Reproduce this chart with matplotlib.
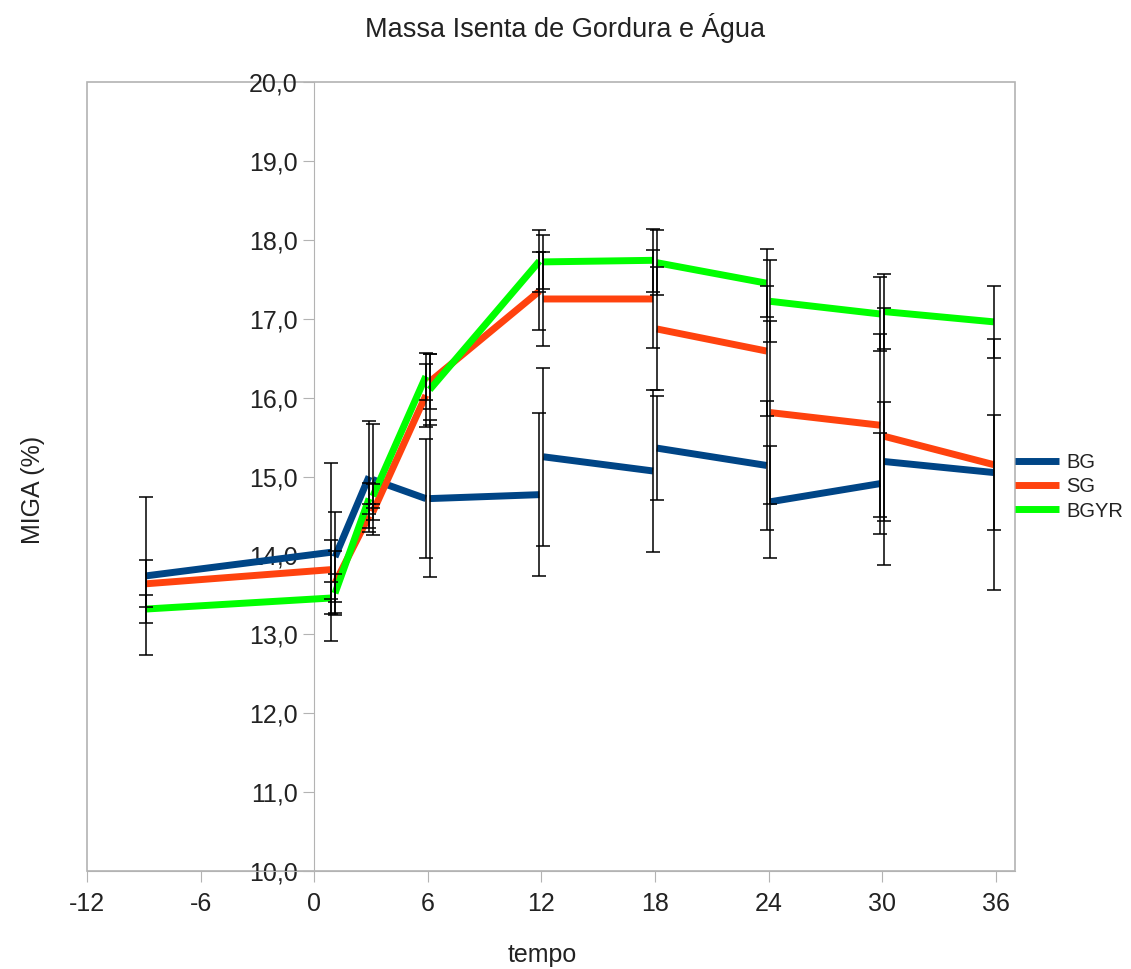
import numpy as np
import matplotlib.pyplot as plt
from matplotlib.ticker import FuncFormatter

plt.rcParams['font.family'] = ['Liberation Sans', 'DejaVu Sans']
plt.rcParams['axes.unicode_minus'] = False

# sampling times (h)
times = [-9, 1, 3, 6, 12, 18, 24, 30, 36]

# every interval between two times is drawn as its own piece:
# value at its left end (start) and at its right end (end)
bg_start = [13.74, 13.98, 14.96, 14.72, 15.25, 15.36, 14.68, 15.19]
bg_end = [14.04, 15.00, 14.72, 14.77, 15.07, 15.14, 14.91, 15.05]
sg_start = [13.64, 13.65, 14.55, 16.20, 17.25, 16.87, 15.81, 15.51]
sg_end = [13.82, 14.50, 16.03, 17.35, 17.25, 16.59, 15.65, 15.15]
bgyr_start = [13.32, 13.52, 14.75, 16.10, 17.72, 17.71, 17.22, 17.09]
bgyr_end = [13.46, 14.72, 16.27, 17.73, 17.74, 17.45, 17.06, 16.96]

# standard deviations
bg_start_err = [1.00, 0.57, 0.70, 1.00, 1.13, 0.66, 0.71, 0.75]
bg_end_err = [1.13, 0.70, 0.75, 1.03, 1.03, 0.82, 0.64, 0.73]
sg_start_err = [0.30, 0.40, 0.10, 0.35, 0.59, 0.78, 1.16, 1.63]
sg_end_err = [0.37, 0.15, 0.40, 0.49, 0.62, 0.82, 1.16, 1.59]
bgyr_start_err = [0.18, 0.25, 0.15, 0.45, 0.34, 0.41, 0.52, 0.48]
bgyr_end_err = [0.20, 0.20, 0.30, 0.39, 0.40, 0.43, 0.47, 0.46]

names = ['BG', 'SG', 'BGYR']
colors = ['#004586', '#ff420e', '#00ff00']

SHIFT = 0.1  # small offset so the pieces don't touch


def pieces(start, end):
    xs, ys = [], []
    for i in range(len(start)):
        xs += [times[i] + SHIFT, times[i + 1] - SHIFT, np.nan]
        ys += [start[i], end[i], np.nan]
    return xs, ys


fig = plt.figure(figsize=(11.31, 9.69), dpi=100)
ax = fig.add_axes([87 / 1131, 98 / 969, 928 / 1131, 789 / 969])

series = [(bg_start, bg_end, bg_start_err, bg_end_err),
          (sg_start, sg_end, sg_start_err, sg_end_err),
          (bgyr_start, bgyr_end, bgyr_start_err, bgyr_end_err)]

for (st, en, se, ee), name, c in zip(series, names, colors):
    xs, ys = pieces(st, en)
    ax.plot(xs, ys, color=c, lw=5, solid_capstyle='butt', label=name, zorder=3)

for st, en, se, ee in series:
    ex = [t + SHIFT for t in times[:-1]] + [t - SHIFT for t in times[1:]]
    ey = list(st) + list(en)
    err = list(se) + list(ee)
    ax.errorbar(ex, ey, yerr=err, fmt='none', ecolor='black', elinewidth=1.1,
                capsize=5, capthick=1.1, zorder=5)

ax.set_xlim(-12, 37.02)
ax.set_ylim(10, 20)
ax.set_xticks(range(-12, 37, 6))
ax.set_yticks(range(10, 21))
ax.yaxis.set_major_formatter(FuncFormatter(lambda v, p: f'{v:.1f}'.replace('.', ',')))

# frame around plot area, y axis crossing at x=0
ax.patch.set_edgecolor('#b3b3b3')
ax.patch.set_linewidth(1.2)
for s in ['top', 'right']:
    ax.spines[s].set_visible(False)
ax.spines['left'].set_position(('data', 0))
ax.spines['left'].set_color('#b3b3b3')
ax.spines['bottom'].set_color('#b3b3b3')
ax.tick_params(axis='y', colors='#b3b3b3', labelcolor='#222222', labelsize=18,
               length=8, direction='out', pad=4)
ax.tick_params(axis='x', colors='#b3b3b3', labelcolor='#222222', labelsize=18,
               length=8, direction='out', pad=7)

fig.text(0.5, 1 - 28 / 969, 'Massa Isenta de Gordura e Água', ha='center',
         va='center', fontsize=19.5, color='#222222')
fig.text(542 / 1131, 1 - 955 / 969, 'tempo', ha='center', va='center',
         fontsize=18, color='#222222')
fig.text(33 / 1131, 1 - 490 / 969, 'MIGA (%)', ha='center', va='center',
         rotation=90, fontsize=18, color='#222222')

leg = fig.legend(loc='center left', bbox_to_anchor=(1015 / 1131, 1 - 487 / 969),
                 frameon=False, fontsize=14.5, handlelength=2.2, labelspacing=0.25,
                 handletextpad=0.35, borderaxespad=0, borderpad=0)
for txt in leg.get_texts():
    txt.set_color('#222222')

fig.savefig('out.png', dpi=100)
